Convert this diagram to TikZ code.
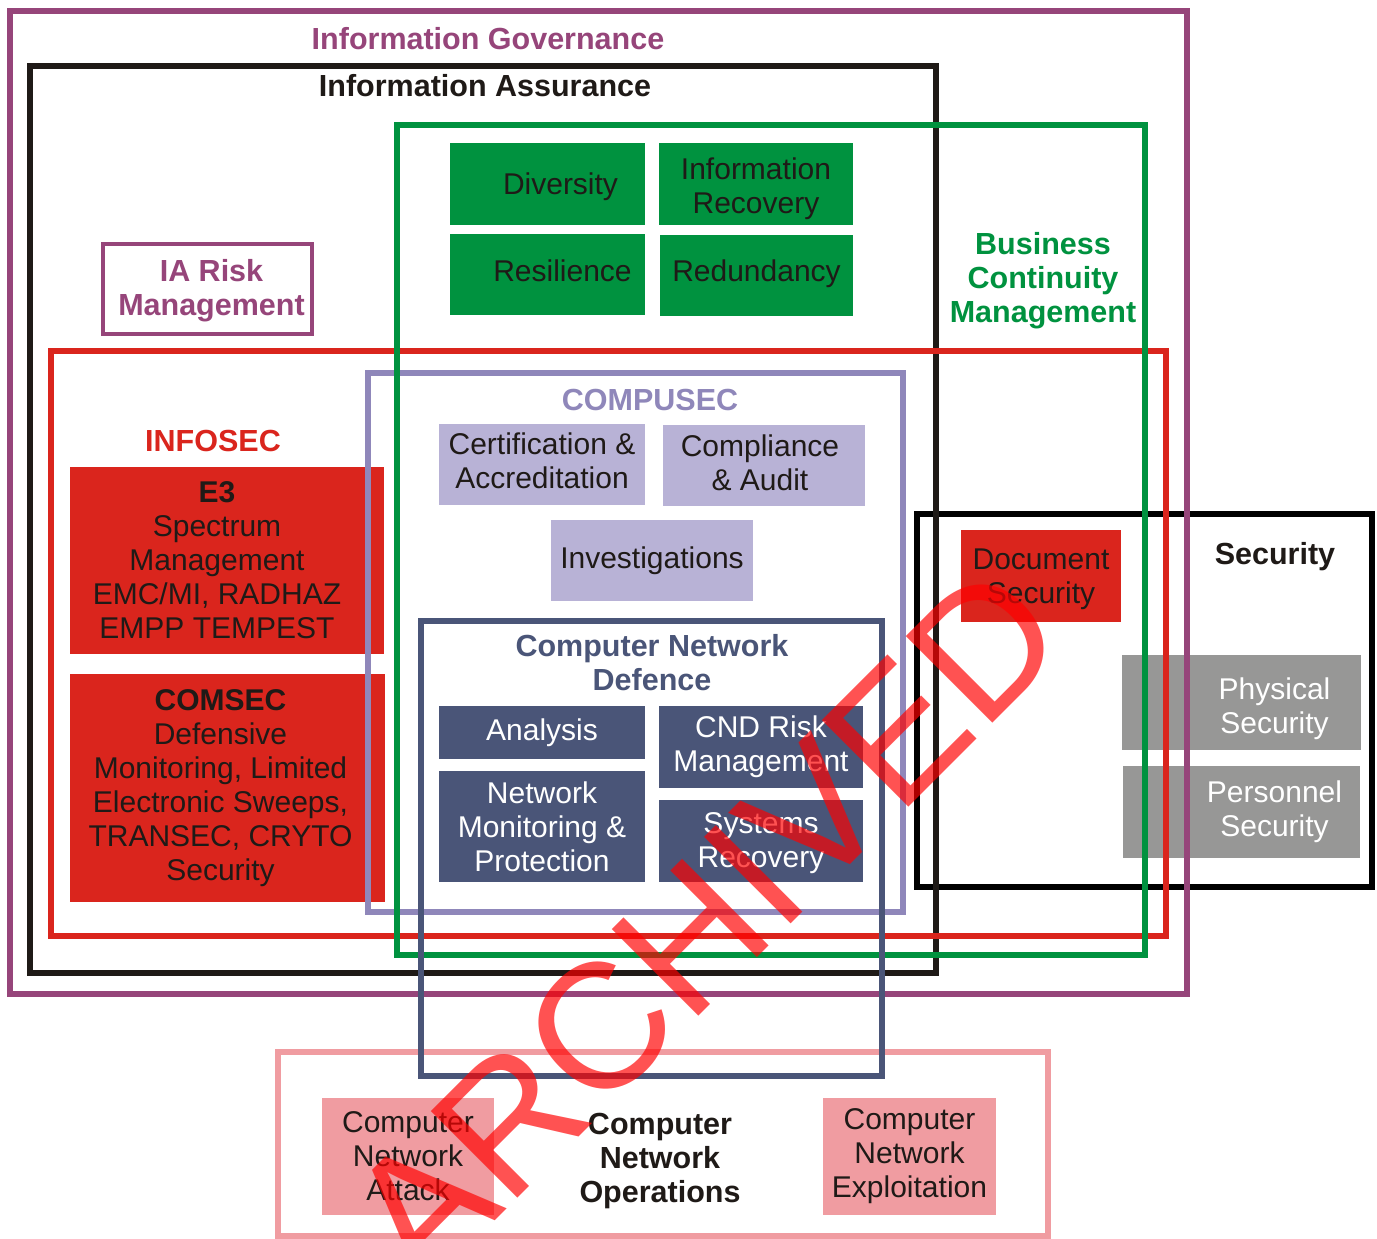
\documentclass[tikz,border=0pt]{standalone}
\usepackage{fontspec}
\setmainfont{Liberation Sans}
\definecolor{ink}{RGB}{31,26,23}
\definecolor{govpurple}{RGB}{150,69,122}
\definecolor{bcmgreen}{RGB}{0,146,63}
\definecolor{secred}{RGB}{218,37,29}
\definecolor{lavline}{RGB}{143,135,186}
\definecolor{lavfill}{RGB}{184,178,214}
\definecolor{slate}{RGB}{74,85,120}
\definecolor{secgray}{RGB}{151,151,150}
\definecolor{cnopink}{RGB}{240,156,161}
\tikzset{
  txt/.style={font=\fontsize{30}{34}\selectfont, align=center, text=ink, inner sep=0pt},
  ttl/.style={txt, font=\fontsize{30.5}{34}\selectfont\bfseries},
  frame/.style={draw=#1, line width=6pt},
  box/.style={txt, fill=#1},
}
\begin{document}
\begin{tikzpicture}[x=1pt,y=-1pt]
\useasboundingbox (0,0) rectangle (1377,1239);
\fill[white] (0,0) rectangle (1377,1239);
% security
\draw[frame=black] (917,514) rectangle (1372,887);
\node[ttl] (sectitle) at (1275,557) {Security};
\node[box=secred, minimum width=160, minimum height=92,
  label={[txt, yshift=-3]center:Document\\Security}] (docsec) at (1041,576) {};
\node[box=secgray, minimum width=239, minimum height=95,
  label={[txt, text=white, xshift=33, yshift=-6]center:Physical\\Security}] (physec) at (1241.5,702.5) {};
\node[box=secgray, minimum width=237, minimum height=92,
  label={[txt, text=white, xshift=33]center:Personnel\\Security}] (persec) at (1241.5,812) {};
% governance and assurance
\draw[frame=govpurple] (10,11) rectangle (1187,994);
\node[ttl, text=govpurple] (govtitle) at (488,39) {Information Governance};
\draw[frame=ink] (30,66) rectangle (936,973);
\node[ttl] (iatitle) at (485,86) {Information Assurance};
\node[draw=govpurple, line width=4pt, minimum width=209, minimum height=90,
  label={[ttl, text=govpurple, xshift=4, yshift=-2]center:IA Risk\\Management}] (iarisk) at (207.5,289) {};
% infosec
\draw[frame=secred] (51,351) rectangle (1166,936);
\node[ttl, text=secred] (infotitle) at (213,441) {INFOSEC};
\node[box=secred, minimum width=314, minimum height=187,
  label={[txt, xshift=-10]center:\textbf{E3}\\Spectrum\\Management\\EMC/MI, RADHAZ\\EMPP TEMPEST}] (ethree) at (227,560.5) {};
\node[box=secred, minimum width=315, minimum height=228,
  label={[txt, xshift=-7]center:\textbf{COMSEC}\\Defensive\\Monitoring, Limited\\Electronic Sweeps,\\TRANSEC, CRYTO\\Security}] (comsec) at (227.5,788) {};
% compusec
\draw[frame=lavline] (368,373) rectangle (903,912);
\node[ttl, text=lavline] (comptitle) at (650,400) {COMPUSEC};
\node[box=lavfill, minimum width=206, minimum height=81,
  label={[txt, yshift=4]center:Certification \&\\Accreditation}] (certacc) at (542,464.5) {};
\node[box=lavfill, minimum width=202, minimum height=81,
  label={[txt, xshift=-4, yshift=3]center:Compliance\\\& Audit}] (compaud) at (764,465.5) {};
\node[box=lavfill, minimum width=202, minimum height=81] (invest) at (652,560.5) {Investigations};
% business continuity
\draw[frame=bcmgreen] (397,125) rectangle (1145,955);
\node[ttl, text=bcmgreen] (bcmtitle) at (1043,281) {Business\\Continuity\\Management};
\node[box=bcmgreen, minimum width=195, minimum height=82,
  label={[txt, xshift=13, yshift=-3]center:Diversity}] (divers) at (547.5,184) {};
\node[box=bcmgreen, minimum width=194, minimum height=82,
  label={[txt, yshift=-5]center:Information\\Recovery}] (inforec) at (756,184) {};
\node[box=bcmgreen, minimum width=195, minimum height=81,
  label={[txt, xshift=15, yshift=4]center:Resilience}] (resil) at (547.5,274.5) {};
\node[box=bcmgreen, minimum width=193, minimum height=81,
  label={[txt, yshift=2]center:Redundancy}] (redund) at (756.5,275.5) {};
% network operations
\draw[frame=cnopink] (278,1052) rectangle (1048,1236);
\node[ttl] (cnotitle) at (660,1161) {Computer\\Network\\Operations};
\node[box=cnopink, minimum width=172, minimum height=117] (cnattack) at (408,1156.5) {Computer\\Network\\Attack};
\node[box=cnopink, minimum width=173, minimum height=117] (cnexploit) at (909.5,1156.5) {Computer\\Network\\Exploitation};
% network defence
\draw[frame=slate] (421,621) rectangle (882,1076);
\node[ttl, text=slate] (cndtitle) at (652,663) {Computer Network\\Defence};
\node[box=slate, text=white, minimum width=206, minimum height=53] (analysis) at (542,732.5) {Analysis};
\node[box=slate, text=white, minimum width=206, minimum height=111] (netmon) at (542,826.5) {Network\\Monitoring \&\\Protection};
\node[box=slate, text=white, minimum width=204, minimum height=82] (cndrisk) at (761,747) {CND Risk\\Management};
\node[box=slate, text=white, minimum width=204, minimum height=82,
  label={[txt, text=white, yshift=-2]center:Systems\\Recovery}] (sysrec) at (761,841) {};
% stamp
\node[font=\fontsize{178}{178}\selectfont, text=red, opacity=0.68, inner sep=0pt, rotate=45] (stamp) at (705,924) {ARCHIVED};
\end{tikzpicture}
\end{document}
